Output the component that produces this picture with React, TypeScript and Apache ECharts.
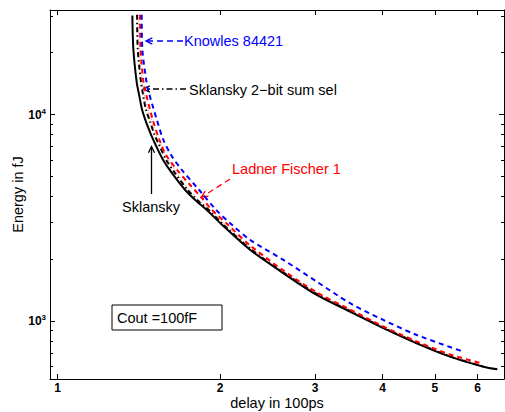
import React, { useEffect, useRef } from 'react';
import * as echarts from 'echarts';

// ---- data (delay in 100ps, energy in fJ) ----
const sklansky: number[][] = [
  [1.376, 30240], [1.382, 20690], [1.402, 14300], [1.416, 12510], [1.434, 10580],
  [1.458, 9250], [1.490, 8000], [1.522, 7070], [1.568, 6050], [1.622, 5290],
  [1.722, 4324], [1.805, 3825], [1.892, 3439], [2.017, 2924], [2.273, 2212],
  [2.619, 1705], [3.020, 1337], [3.481, 1110], [4.012, 922], [4.626, 779],
  [5.333, 671], [6.145, 600], [6.524, 583],
];
const sklansky2bit: number[][] = [
  [1.404, 30500], [1.408, 20690], [1.428, 14300], [1.440, 12510], [1.458, 10580],
  [1.484, 9250], [1.512, 8000], [1.545, 7070], [1.588, 6050], [1.643, 5290],
  [1.741, 4324], [1.820, 3825], [1.908, 3439], [2.030, 2924], [2.283, 2224],
  [2.627, 1710], [3.031, 1345], [3.487, 1114], [4.025, 925], [4.632, 782],
  [5.333, 673], [6.139, 602],
];
const redDotted: number[][] = [
  [1.413, 30500], [1.417, 20690], [1.436, 14300], [1.449, 12510], [1.471, 10580],
  [1.496, 9250], [1.525, 8000], [1.558, 7070], [1.602, 6050], [1.657, 5290],
  [1.752, 4324], [1.832, 3825], [1.920, 3439], [2.047, 2924], [2.273, 2274],
  [2.619, 1729], [3.020, 1360], [3.481, 1124], [4.012, 932], [4.626, 788],
  [5.333, 680], [6.145, 608],
];
const ladnerFischer: number[][] = [
  [1.422, 30500], [1.425, 20690], [1.443, 14300], [1.452, 13220], [1.501, 9457],
  [1.544, 7563], [1.588, 6393], [1.664, 5407], [1.759, 4572], [1.849, 3955],
  [1.924, 3497], [2.069, 2924], [2.273, 2325], [2.619, 1759], [3.020, 1375],
  [3.481, 1137], [4.012, 940], [4.626, 795], [5.333, 688], [6.145, 620],
];
const knowles: number[][] = [
  [1.432, 30500], [1.436, 20690], [1.462, 14300], [1.471, 13220], [1.527, 9457],
  [1.570, 7563], [1.622, 6393], [1.698, 5407], [1.828, 4324], [1.966, 3458],
  [2.104, 2924], [2.273, 2472], [2.619, 1977], [3.020, 1551], [3.481, 1219],
  [4.012, 1011], [4.626, 855], [5.643, 710],
];

const xTicks = [1, 2, 3, 4, 5, 6];
const yMajorTicks = [1000, 10000];
const yMinorTicks = [600, 700, 800, 900, 2000, 3000, 4000, 5000, 6000, 7000, 8000, 9000, 20000, 30000];
const X_MIN = 0.9685;
const X_MAX = 6.712;
const Y_MIN = 523;
const Y_MAX = 32160;

const FONT = '"Liberation Sans", Arial, Helvetica, sans-serif';
const TXT = 14.5;

function arrowHead(tx: number, ty: number, fx: number, fy: number, len = 7, ang = 0.45) {
  const a = Math.atan2(fy - ty, fx - tx);
  return [
    [tx + len * Math.cos(a + ang), ty + len * Math.sin(a + ang)],
    [tx, ty],
    [tx + len * Math.cos(a - ang), ty + len * Math.sin(a - ang)],
  ];
}

export default function App() {
  const ref = useRef<HTMLDivElement>(null);
  useEffect(() => {
    if (!ref.current) return;
    const chart = echarts.init(ref.current, undefined, { renderer: 'svg' });
    const gridRect = {
      left: 50, top: 10, width: 454, height: 369,
      containLabel: false, outerBoundsMode: 'none', show: false,
    };
    const axisLine = { show: true, onZero: false, lineStyle: { color: '#000', width: 1 } };
    const line = (data: number[][], color: string, width: number, type: any, z: number, opacity = 1) => ({
      type: 'line', xAxisIndex: 0, yAxisIndex: 0, data, showSymbol: false, symbol: 'none',
      smooth: 0.3, z, lineStyle: { color, width, type, opacity }, silent: true,
    });
    const option: any = {
      animation: false,
      backgroundColor: '#ffffff',
      grid: [gridRect, { ...gridRect }],
      xAxis: [
        {
          type: 'log', gridIndex: 0, position: 'bottom', min: X_MIN, max: X_MAX,
          axisLine,
          axisTick: { show: true, inside: true, length: 5, customValues: xTicks, lineStyle: { color: '#000' } },
          axisLabel: {
            show: true, customValues: xTicks, margin: 3, fontWeight: 'bold', fontSize: 12,
            color: '#000', fontFamily: FONT, formatter: (v: number) => String(Math.round(v)),
          },
          splitLine: { show: false }, minorTick: { show: false },
          name: 'delay in 100ps', nameLocation: 'middle', nameGap: 16, nameMoveOverlap: false,
          nameTextStyle: { fontSize: TXT, color: '#000', fontFamily: FONT, verticalAlign: 'top' },
        },
        {
          type: 'log', gridIndex: 0, position: 'top', min: X_MIN, max: X_MAX,
          axisLine,
          axisTick: { show: true, inside: true, length: 5, customValues: xTicks, lineStyle: { color: '#000' } },
          axisLabel: { show: false }, splitLine: { show: false },
        },
        { type: 'log', gridIndex: 1, show: false, min: X_MIN, max: X_MAX },
      ],
      yAxis: [
        {
          type: 'log', gridIndex: 0, position: 'left', min: Y_MIN, max: Y_MAX,
          axisLine,
          axisTick: { show: true, inside: true, length: 5, customValues: yMajorTicks, lineStyle: { color: '#000' } },
          axisLabel: {
            show: true, customValues: yMajorTicks, margin: 4,
            formatter: (v: number) => `{b|10}{s|${Math.round(Math.log10(v))}}`,
            rich: {
              b: { fontSize: 12, fontWeight: 'bold', fontFamily: FONT, color: '#000', lineHeight: 14 },
              s: { fontSize: 8, fontWeight: 'bold', fontFamily: FONT, color: '#000', lineHeight: 8, verticalAlign: 'top' },
            },
          },
          splitLine: { show: false },
          name: 'Energy in fJ', nameLocation: 'middle', nameGap: 25, nameRotate: 90, nameMoveOverlap: false,
          nameTextStyle: { fontSize: TXT, color: '#000', fontFamily: FONT },
        },
        {
          type: 'log', gridIndex: 0, position: 'right', min: Y_MIN, max: Y_MAX,
          axisLine,
          axisTick: { show: true, inside: true, length: 5, customValues: yMajorTicks, lineStyle: { color: '#000' } },
          axisLabel: { show: false }, splitLine: { show: false },
        },
        {
          type: 'log', gridIndex: 1, position: 'left', min: Y_MIN, max: Y_MAX,
          axisLine: { show: false },
          axisTick: { show: true, inside: true, length: 3, customValues: yMinorTicks, lineStyle: { color: '#000' } },
          axisLabel: { show: false }, splitLine: { show: false },
        },
        {
          type: 'log', gridIndex: 1, position: 'right', min: Y_MIN, max: Y_MAX,
          axisLine: { show: false },
          axisTick: { show: true, inside: true, length: 3, customValues: yMinorTicks, lineStyle: { color: '#000' } },
          axisLabel: { show: false }, splitLine: { show: false },
        },
      ],
      series: [
        line(sklansky, '#000000', 2, 'solid', 5),
        line(sklansky2bit, '#000000', 2, [5, 3, 1.5, 3], 6),
        line(redDotted, '#ff0000', 1, [1, 2], 7, 0.6),
        line(ladnerFischer, '#ff0000', 2, [5, 4], 8),
        line(knowles, '#0000ff', 2, [5, 4], 9),
      ],
      graphic: [
        // Knowles
        { type: 'line', shape: { x1: 183, y1: 41, x2: 147, y2: 41 }, style: { stroke: '#0000ff', lineWidth: 1.3, lineDash: [6, 4] } },
        { type: 'polyline', shape: { points: arrowHead(146, 41, 183, 41) }, style: { stroke: '#0000ff', lineWidth: 1.3, fill: null } },
        { type: 'text', style: { text: 'Knowles 84421', x: 184, y: 41, verticalAlign: 'middle', fill: '#0000ff', fontSize: TXT, fontFamily: FONT } },
        // Sklansky 2-bit sum sel
        { type: 'line', shape: { x1: 186, y1: 89, x2: 144, y2: 89 }, style: { stroke: '#000', lineWidth: 1.3, lineDash: [6, 3, 1.5, 3] } },
        { type: 'polyline', shape: { points: arrowHead(143.5, 89, 186, 89) }, style: { stroke: '#000', lineWidth: 1.3, fill: null } },
        { type: 'text', style: { text: 'Sklansky 2\u2212bit sum sel', x: 189, y: 90, verticalAlign: 'middle', fill: '#000', fontSize: TXT, fontFamily: FONT } },
        // Ladner Fischer 1
        { type: 'line', shape: { x1: 230, y1: 179, x2: 202, y2: 197 }, style: { stroke: '#ff0000', lineWidth: 1.3, lineDash: [6, 4] } },
        { type: 'polyline', shape: { points: arrowHead(201.5, 197, 230, 179) }, style: { stroke: '#ff0000', lineWidth: 1.3, fill: null } },
        { type: 'text', style: { text: 'Ladner Fischer 1', x: 232, y: 169, verticalAlign: 'middle', fill: '#ff0000', fontSize: TXT, fontFamily: FONT } },
        // Sklansky
        { type: 'line', shape: { x1: 151.5, y1: 194, x2: 151.5, y2: 147 }, style: { stroke: '#000', lineWidth: 1.3 } },
        { type: 'polyline', shape: { points: arrowHead(151.5, 146.5, 151.5, 194) }, style: { stroke: '#000', lineWidth: 1.3, fill: null } },
        { type: 'text', style: { text: 'Sklansky', x: 151, y: 207, align: 'center', verticalAlign: 'middle', fill: '#000', fontSize: TXT, fontFamily: FONT } },
        // Cout box
        { type: 'rect', shape: { x: 112, y: 305, width: 110, height: 25 }, style: { stroke: '#000', lineWidth: 1, fill: '#fff' } },
        { type: 'text', style: { text: 'Cout =100fF', x: 117, y: 317.5, verticalAlign: 'middle', fill: '#000', fontSize: TXT, fontFamily: FONT } },
      ],
    };
    chart.setOption(option);
    return () => chart.dispose();
  }, []);
  return <div ref={ref} style={{ position: 'fixed', left: 0, top: 0, width: 505, height: 412, background: '#fff' }} />;
}
